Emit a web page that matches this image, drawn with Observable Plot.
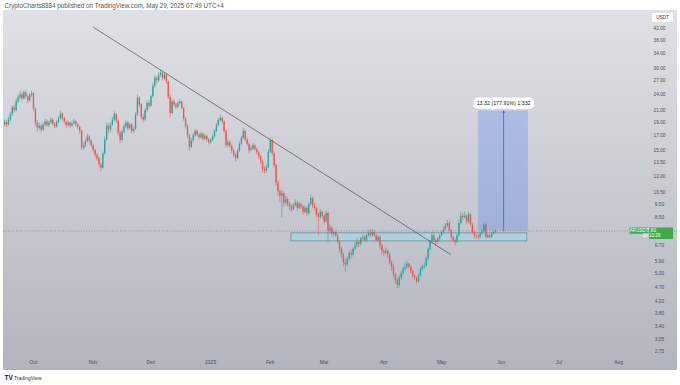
<!DOCTYPE html>
<html><head><meta charset="utf-8">
<script src="https://cdn.jsdelivr.net/npm/d3@7"></script>
<script src="https://cdn.jsdelivr.net/npm/@observablehq/plot@0.6"></script>
<style>
html,body{margin:0;padding:0;background:#fff;width:680px;height:385px;overflow:hidden}
#wrap{position:relative;width:680px;height:385px}
#bg{position:absolute;left:3px;top:10px;width:674px;height:360px;background:linear-gradient(#e0e1e6,#b2b5be)}
#chart{position:absolute;left:0;top:0}
</style></head>
<body><div id="wrap"><div id="bg"></div><div id="chart"></div></div>
<script>
const headerText = "CryptoCharts8884 published on TradingView.com, May 29, 2025 07:49 UTC+4";
const footerText = "TradingView";
const symbol = "ARUSDT";
const countdown = "20:10:29";
const currency = "USDT";
const startDate = "2024-09-16";
const firstOpen = 18.6;
const closes = [
19.0,18.6,19.4,20.3,21.5,21.0,22.6,23.4,24.0,23.2,
24.4,23.6,22.8,23.9,24.2,21.2,18.9,18.1,18.4,17.8,
18.6,19.1,18.5,18.9,19.4,18.7,18.3,19.0,19.6,20.4,
19.6,19.0,18.5,18.9,18.4,18.8,19.1,18.6,18.2,17.6,
15.3,15.6,16.2,16.8,16.2,15.6,15.0,14.4,14.0,13.3,
12.9,14.6,16.4,18.4,17.8,18.6,19.4,20.3,19.2,17.4,
16.3,17.5,18.3,18.9,18.0,18.6,17.6,17.9,20.2,23.3,
22.0,19.8,19.4,21.0,22.3,21.8,23.6,25.8,27.6,27.0,
28.3,28.8,27.5,28.4,26.8,23.5,20.5,22.6,22.0,21.6,
22.3,22.6,21.4,19.6,18.4,17.0,15.4,16.2,17.0,17.6,
17.1,16.7,17.2,16.5,16.9,16.4,16.0,16.3,16.8,17.6,
18.5,19.3,19.7,19.1,17.6,15.6,16.0,15.5,14.9,14.4,
14.0,14.9,15.8,16.6,17.6,16.4,15.8,15.0,15.2,15.6,
15.1,14.7,14.2,13.6,12.8,12.6,13.0,14.8,16.3,14.6,
13.2,11.4,10.6,10.2,10.4,9.6,9.9,9.5,9.3,9.1,
9.4,9.6,9.2,9.5,9.3,8.9,9.2,8.8,9.5,10.0,
9.4,9.2,8.7,8.5,8.9,8.6,8.2,8.8,7.6,7.8,
7.4,7.5,7.3,6.9,6.5,6.2,5.8,5.7,6.0,6.3,
6.2,6.5,6.7,6.9,6.8,7.1,7.2,7.0,7.3,7.45,
7.3,7.5,7.3,7.0,7.2,6.7,6.4,6.3,6.4,6.2,
5.8,5.6,5.25,5.0,4.8,5.1,5.3,5.5,5.6,5.75,
5.6,5.4,5.2,5.1,4.95,5.2,5.5,5.6,5.65,6.0,
6.5,6.9,7.3,7.0,6.9,7.1,7.3,7.5,7.7,7.9,
8.1,7.6,7.2,7.0,6.9,7.3,8.1,8.6,8.5,8.6,
8.2,8.7,8.0,7.5,7.3,7.25,7.2,7.4,7.6,8.0,
7.2,7.3,7.2,7.4,7.5,7.6];
const highs = [
19.4,19.3,19.8,20.7,21.9,22.0,23.1,24.0,24.6,24.5,
24.9,24.8,24.0,24.3,24.8,24.4,21.5,19.3,18.9,18.7,
18.9,19.5,19.4,19.2,19.8,19.6,19.0,19.3,20.0,20.9,
20.6,19.9,19.2,19.3,19.1,19.1,19.5,19.3,18.9,18.4,
17.8,16.0,16.5,17.2,17.0,16.4,15.8,15.2,14.6,14.2,
13.5,14.8,16.8,18.9,18.8,19.0,19.8,20.8,20.5,19.4,
17.6,17.8,18.7,19.3,19.1,18.9,18.8,18.3,20.6,24.0,
23.6,22.3,20.3,21.4,22.8,22.7,24.0,26.4,28.2,28.0,
28.9,29.6,29.1,28.9,28.6,27.0,23.8,23.0,23.0,22.4,
22.7,23.1,22.8,21.6,19.8,18.6,17.2,16.6,17.3,17.9,
17.8,17.3,17.5,17.4,17.2,17.1,16.6,16.6,17.1,17.9,
18.8,19.7,20.2,19.9,19.3,17.8,16.4,16.2,15.7,15.1,
14.6,15.2,16.1,16.9,18.1,17.8,16.6,16.0,15.6,15.9,
15.8,15.3,14.9,14.4,13.8,13.1,13.3,15.1,16.7,16.5,
14.8,13.4,11.6,10.8,10.7,10.6,10.2,10.1,9.7,9.5,
9.6,9.9,9.8,9.7,9.6,9.4,9.4,9.3,9.7,10.3,
10.1,9.6,9.3,8.8,9.1,9.0,8.7,9.0,8.9,8.0,
7.9,7.6,7.6,7.4,7.0,6.6,6.3,6.0,6.1,6.4,
6.5,6.6,6.9,7.1,7.0,7.2,7.4,7.3,7.4,7.6,
7.7,7.7,7.6,7.4,7.3,7.3,6.8,6.5,6.6,6.5,
6.3,5.9,5.7,5.3,5.1,5.2,5.4,5.6,5.8,5.9,
5.8,5.65,5.45,5.25,5.15,5.3,5.6,5.7,5.8,6.1,
6.6,7.0,7.5,7.4,7.1,7.2,7.4,7.6,7.9,8.1,
8.3,8.2,7.7,7.3,7.1,7.4,8.3,8.9,8.8,8.9,
8.7,8.9,8.8,8.1,7.6,7.4,7.35,7.5,7.7,8.2,
8.1,7.4,7.4,7.5,7.6,7.65];
const lows = [
18.3,18.2,18.4,19.1,20.0,20.6,20.8,22.3,23.0,22.7,
23.0,23.2,22.3,22.5,23.5,20.8,18.4,17.6,17.8,17.4,
17.6,18.3,18.2,18.2,18.7,18.4,18.0,18.1,18.8,19.4,
19.3,18.7,18.1,18.2,18.0,18.2,18.6,18.3,17.9,17.2,
15.0,15.0,15.3,16.0,15.9,15.3,14.7,14.1,13.7,13.0,
12.5,12.8,14.4,16.2,17.3,17.5,18.3,19.1,18.8,17.0,
15.9,16.1,17.3,18.0,17.7,17.8,17.3,17.3,17.8,20.0,
21.5,19.4,18.9,19.2,20.7,21.3,21.6,23.3,25.4,26.3,
26.6,27.8,27.0,27.1,26.2,23.0,19.8,20.3,21.6,21.2,
21.3,22.0,21.0,19.2,18.0,16.6,14.9,15.2,16.0,16.8,
16.8,16.4,16.5,16.2,16.3,16.1,15.7,15.8,16.1,16.6,
17.4,18.3,19.0,18.7,17.3,15.3,15.4,15.2,14.6,14.1,
13.6,13.9,14.7,15.6,16.4,16.1,15.5,14.6,14.8,15.0,
14.9,14.4,13.9,13.3,12.4,12.3,12.4,12.9,14.6,14.3,
12.9,11.1,10.2,9.7,8.5,9.3,9.4,9.3,9.0,8.9,
9.0,9.3,9.0,9.1,9.1,8.7,8.8,8.6,8.7,9.4,
9.2,9.0,8.5,7.3,8.4,8.4,8.0,8.1,6.9,7.4,
7.2,7.2,7.2,6.8,6.3,6.0,5.6,5.35,5.6,5.9,
6.0,6.1,6.4,6.6,6.6,6.7,7.0,6.9,6.9,7.2,
7.2,7.2,7.2,6.9,6.9,6.5,6.2,6.1,6.2,6.0,
5.7,5.4,5.1,4.85,4.65,4.7,5.0,5.2,5.4,5.5,
5.5,5.3,5.1,5.0,4.85,4.9,5.15,5.4,5.5,5.6,
5.9,6.4,6.8,6.9,6.7,6.8,7.0,7.2,7.4,7.6,
7.8,7.5,7.1,6.9,6.7,6.85,7.2,8.0,8.3,8.4,
8.0,8.1,7.9,7.4,7.1,7.1,7.05,7.1,7.3,7.5,
7.1,7.1,7.1,7.15,7.35,7.45];
const monthTicks = ["2024-10-01","2024-11-01","2024-12-01","2025-01-01","2025-02-01","2025-03-01","2025-04-01","2025-05-01","2025-06-01","2025-07-01","2025-08-01"];
const monthLabels = ["Oct","Nov","Dec","2025","Feb","Mar","Apr","May","Jun","Jul","Aug"];
const priceTicks = [42,38,34,30,27,24,21,19,17,15,13.5,12,10.5,9.5,8.5,6.7,5.9,5.3,4.7,4.2,3.8,3.4,3.05,2.75];
const trendDates = ["2024-11-01T05:00Z","2025-05-05T14:00Z"];
const trendPrices = [42.4, 6.24];
const zoneDates = ["2025-02-12T00:00Z","2025-06-14T12:00Z"];
const zonePrices = [6.96, 7.45];
const measureDates = ["2025-05-20T05:00Z","2025-06-02T05:00Z","2025-06-15T02:00Z"];
const measurePrices = [7.60, 20.92];
const measureLabel = "13.32 (177.91%) 1,332";
const lastPrice = 7.60;

const green = "#26a69a", red = "#ef5350";
const t0 = new Date(startDate + "T00:00Z");
const candles = closes.map((c, i) => ({
  date: d3.utcDay.offset(t0, i),
  open: i ? closes[i - 1] : firstOpen,
  close: c, high: highs[i], low: lows[i]
}));
const up = candles.filter(d => d.close >= d.open);
const down = candles.filter(d => d.close < d.open);
const trend = trendDates.map((d, i) => ({date: new Date(d), price: trendPrices[i]}));
const zone = [{x1: new Date(zoneDates[0]), x2: new Date(zoneDates[1]), y1: zonePrices[0], y2: zonePrices[1]}];
const measure = [{x1: new Date(measureDates[0]), xm: new Date(measureDates[1]), x2: new Date(measureDates[2]), y1: measurePrices[0], y2: measurePrices[1]}];
const tickDates = monthTicks.map(d => new Date(d + "T00:00Z"));
const font = "Liberation Sans, Arial, sans-serif";

const plot = Plot.plot({
  width: 680, height: 385,
  marginLeft: 3, marginRight: 3, marginTop: 10, marginBottom: 15,
  style: {background: "transparent", fontFamily: font, overflow: "visible"},
  x: {type: "utc", domain: [new Date("2024-09-15T10:00Z"), new Date("2025-08-31T13:00Z")], axis: null},
  y: {type: "log", domain: [2.34, 48.9], axis: null},
  marks: [
    Plot.rect(measure, {x1: "x1", x2: "x2", y1: "y1", y2: "y2", fill: "#2962ff", fillOpacity: 0.22}),
    Plot.ruleY([lastPrice], {stroke: "#6f727c", strokeWidth: 0.6, strokeDasharray: "1,1.6"}),
    Plot.rect(zone, {x1: "x1", x2: "x2", y1: "y1", y2: "y2", fill: "#a3d8e4", fillOpacity: 0.6, stroke: "#6b8c98", strokeWidth: 0.8}),
    Plot.ruleX(up, {x: "date", y1: "low", y2: "high", stroke: green, strokeWidth: 0.6}),
    Plot.ruleX(down, {x: "date", y1: "low", y2: "high", stroke: red, strokeWidth: 0.6}),
    Plot.ruleX(up, {x: "date", y1: "open", y2: "close", stroke: green, strokeWidth: 1.35}),
    Plot.ruleX(down, {x: "date", y1: "open", y2: "close", stroke: red, strokeWidth: 1.35}),
    Plot.line(trend, {x: "date", y: "price", stroke: "#4a4d57", strokeWidth: 0.7}),
    Plot.arrow(measure, {x1: "xm", x2: "xm", y1: "y1", y2: "y2", stroke: "#2962ff", strokeWidth: 0.8, headLength: 3}),
    Plot.text(measure, {x: "xm", y: "y2", dy: -7.5, text: () => measureLabel, fill: "#222", stroke: "white", strokeWidth: 7, strokeLinejoin: "round", fontSize: 5.3, fontFamily: font}),
    Plot.axisX(tickDates, {anchor: "bottom", tickSize: 0, tickPadding: 0, dy: -10.5, fontSize: 5, fill: "#4a4d57",
      tickFormat: d => monthLabels[tickDates.findIndex(t => +t === +d)]}),
    Plot.axisY(priceTicks, {anchor: "right", tickSize: 0, tickPadding: 0, dx: -18, textAnchor: "middle", fontSize: 4.8, fill: "#4a4d57",
      tickFormat: d => d.toFixed(2)}),
    Plot.text([headerText], {frameAnchor: "top-left", dx: 1, dy: -5, textAnchor: "start", lineAnchor: "middle", fontSize: 6.3, fill: "#555"}),
    Plot.text(["TV"], {frameAnchor: "bottom-left", dx: 1, dy: 7.5, textAnchor: "start", lineAnchor: "middle", fontSize: 6.5, fontWeight: 900, fill: "#131722"}),
    Plot.text([footerText], {frameAnchor: "bottom-left", dx: 10.5, dy: 7.5, textAnchor: "start", lineAnchor: "middle", fontSize: 5, fill: "#333"})
  ]
});
document.getElementById("chart").appendChild(plot);

// overlay labels in price scale column
const svg = d3.select(plot);
const yy = plot.scale("y").apply(lastPrice);
const g = svg.append("g").attr("font-family", font);
g.append("rect").attr("x", 652).attr("y", 13).attr("width", 21).attr("height", 9).attr("fill", "white").attr("rx", 1);
g.append("text").attr("x", 662.5).attr("y", 17.7).attr("text-anchor", "middle").attr("dominant-baseline", "middle").attr("font-size", 4.6).attr("fill", "#333").text(currency);
const lblGreen = "#3fa94b";
g.append("rect").attr("x", 629.5).attr("y", yy - 3).attr("width", 19).attr("height", 6.2).attr("fill", lblGreen).attr("rx", 0.6);
g.append("text").attr("x", 639).attr("y", yy + 0.2).attr("text-anchor", "middle").attr("dominant-baseline", "middle").attr("font-size", 4.6).attr("fill", "white").text(symbol);
g.append("rect").attr("x", 649).attr("y", yy - 3).attr("width", 24).attr("height", 11.6).attr("fill", lblGreen).attr("rx", 0.6);
g.append("text").attr("x", 651.5).attr("y", yy + 0.2).attr("dominant-baseline", "middle").attr("font-size", 4.6).attr("fill", "white").text(lastPrice.toFixed(2));
g.append("text").attr("x", 651.5).attr("y", yy + 5.6).attr("dominant-baseline", "middle").attr("font-size", 4.6).attr("fill", "white").text(countdown);
</script>
</body></html>
